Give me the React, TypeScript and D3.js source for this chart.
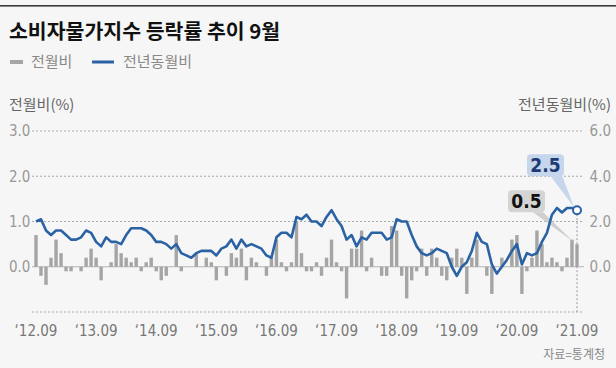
import React, { useEffect } from "react";
import * as d3 from "d3";

// 2012.09 ~ 2021.09, monthly (%)
const momValues = [
  0.7, -0.2, -0.4, 0.2,
  0.6, 0.3, -0.1, -0.1, 0.0, -0.1, 0.2, 0.4, 0.2, -0.3, 0.0, 0.1,
  0.5, 0.3, 0.2, 0.1, 0.2, -0.1, 0.1, 0.2, -0.1, -0.3, -0.2, 0.0,
  0.7, -0.1, 0.0, 0.0, 0.3, 0.0, 0.2, 0.1, -0.3, 0.0, -0.2, 0.3,
  0.2, 0.4, -0.3, 0.2, 0.1, 0.0, -0.2, 0.2, 0.6, 0.1, -0.1, 0.1,
  1.0, 0.3, -0.1, -0.1, 0.1, -0.2, 0.2, 0.6, 0.1, -0.1, -0.7, 0.4,
  0.4, 0.8, -0.1, 0.2, 0.0, -0.2, -0.2, 0.9, 0.8, -0.2, -0.7, -0.3,
  -0.1, 0.4, -0.2, 0.4, 0.2, -0.2, -0.3, 0.2, 0.4, 0.2, -0.6, 0.2,
  0.6, 0.0, -0.2, -0.6, 0.0, 0.2, 0.0, 0.6, 0.7, -0.6, -0.1, 0.2,
  0.8, 0.5, 0.1, 0.2, 0.1, -0.1, 0.2, 0.6, 0.5,
];

const yoyValues = [
  2.0, 2.1, 1.6, 1.4,
  1.6, 1.6, 1.4, 1.2, 1.2, 1.3, 1.6, 1.5, 1.1, 0.9, 1.3, 1.1,
  1.1, 1.0, 1.4, 1.7, 1.7, 1.7, 1.6, 1.4, 1.1, 1.1, 1.0, 0.8,
  1.0, 0.6, 0.5, 0.4, 0.6, 0.7, 0.7, 0.7, 0.5, 0.8, 0.9, 1.2,
  0.8, 1.2, 0.9, 1.0, 0.9, 0.8, 0.5, 0.4, 1.3, 1.5, 1.5, 1.3,
  2.2, 2.1, 2.3, 2.0, 2.0, 1.8, 2.2, 2.5, 2.1, 1.8, 1.2, 1.4,
  0.9, 1.3, 1.2, 1.5, 1.5, 1.5, 1.2, 1.3, 2.1, 2.0, 2.0, 1.4,
  0.9, 0.6, 0.5, 0.6, 0.8, 0.7, 0.6, 0.0, -0.4, 0.0, 0.2, 0.7,
  1.5, 1.1, 1.0, 0.1, -0.3, 0.0, 0.3, 0.7, 1.0, 0.1, 0.6, 0.5,
  0.6, 1.1, 1.5, 2.3, 2.6, 2.4, 2.6, 2.6, 2.5,
];

const xTickLabels = [
  "‘12.09", "‘13.09", "‘14.09", "‘15.09", "‘16.09",
  "‘17.09", "‘18.09", "‘19.09", "‘20.09", "‘21.09",
];
const leftTicks = [3, 2, 1, 0];
const rightTicks = [6, 4, 2, 0];

const W = 616;
const H = 368;
const KR = "'Noto Sans CJK KR', 'Noto Sans', sans-serif";
const NUM = "'Liberation Sans Narrow', 'DejaVu Sans Condensed', 'Roboto', sans-serif";
const BLUE = "#2a62a3";
const BAR = "#a5a5a5";

export default function App() {
  useEffect(() => {
    document.body.style.margin = "0";
  }, []);

  const n = momValues.length;
  const x = d3.scaleLinear().domain([0, n - 1]).range([36, 577]);
  const yL = d3.scaleLinear().domain([-1, 3]).range([312, 131]);
  const yR = d3.scaleLinear().domain([-2, 6]).range([312, 131]);
  const gx0 = 32;
  const gx1 = 584;
  const barW = 3.4;

  const line = d3
    .line<number>()
    .x((_, i) => x(i))
    .y((d) => yR(d));

  const last = n - 1;
  const mx = x(last);
  const my = yR(yoyValues[last]);
  const by = yL(momValues[last]);

  return (
    <svg width={W} height={H} style={{ display: "block" }}>
      <rect width={W} height={H} fill="#f6f6f6" />
      <rect x={0} y={5} width={W} height={1.6} fill="#3a3a3a" />

      <text x={9} y={39} fontFamily={KR} fontSize={20.5} fontWeight="bold" fill="#111">
        소비자물가지수 등락률 추이 9월
      </text>

      {/* legend */}
      <line x1={10} x2={23} y1={62} y2={62} stroke={BAR} strokeWidth={4} />
      <text x={31} y={67} fontFamily={KR} fontSize={15} fill="#888">전월비</text>
      <line x1={92} x2={114} y1={62} y2={62} stroke={BLUE} strokeWidth={3} />
      <text x={123} y={67} fontFamily={KR} fontSize={15} fill="#888">전년동월비</text>

      <text x={9} y={110} fontFamily={KR} fontSize={15} fill="#666">전월비(%)</text>
      <text x={611} y={110} textAnchor="end" fontFamily={KR} fontSize={15} fill="#666">
        전년동월비(%)
      </text>

      {/* grid */}
      {[3, 2, 1, -1].map((v) => (
        <line key={v} x1={gx0} x2={gx1} y1={yL(v)} y2={yL(v)} stroke="#aaa" strokeWidth={1} strokeDasharray="2,2" />
      ))}
      <line x1={gx0} x2={gx1} y1={yL(0)} y2={yL(0)} stroke="#b5b5b5" strokeWidth={1.2} />

      {leftTicks.map((v) => (
        <text key={v} x={9} y={yL(v)} dy="0.36em" fontFamily={NUM} fontSize={15} fill="#999">
          {v.toFixed(1)}
        </text>
      ))}
      {rightTicks.map((v) => (
        <text key={v} x={611} y={yR(v)} dy="0.36em" textAnchor="end" fontFamily={NUM} fontSize={15} fill="#999">
          {v.toFixed(1)}
        </text>
      ))}

      {/* bars */}
      {momValues.map((v, i) => (
        <rect
          key={i}
          x={x(i) - barW / 2}
          y={Math.min(yL(v), yL(0))}
          width={barW}
          height={Math.abs(yL(v) - yL(0))}
          fill={BAR}
        />
      ))}

      {/* callout pointers */}
      <polygon points={`${mx - 44},${by - 32} ${mx - 34},${by - 32} ${mx - 3},${by - 2}`} fill="#cfcfcf" />
      <polygon points={`${mx - 27},${my - 35} ${mx - 15},${my - 35} ${mx - 3},${my - 3}`} fill="#c6d6ec" />

      <line x1={mx} x2={mx} y1={my} y2={yL(-1)} stroke="#999" strokeWidth={1} strokeDasharray="2,2" />

      <path d={line(yoyValues) ?? ""} fill="none" stroke={BLUE} strokeWidth={2.6} strokeLinejoin="round" />
      <circle cx={mx} cy={my} r={4} fill="#fff" stroke={BLUE} strokeWidth={2} />

      {/* callout boxes */}
      <rect x={mx - 69} y={by - 54} width={37} height={22} rx={4} fill="#d4d4d4" />
      <text x={mx - 50.5} y={by - 43} dy="0.36em" textAnchor="middle" fontFamily={NUM} fontSize={19} fontWeight="bold" fill="#111">
        {momValues[last].toFixed(1)}
      </text>
      <rect x={mx - 50} y={my - 56} width={37} height={22} rx={4} fill="#c6d6ec" />
      <text x={mx - 31.5} y={my - 45} dy="0.36em" textAnchor="middle" fontFamily={NUM} fontSize={19} fontWeight="bold" fill="#1d3c74">
        {yoyValues[last].toFixed(1)}
      </text>

      {/* x labels */}
      {xTickLabels.map((t, i) => (
        <text key={t} x={x(i * 12)} y={336} textAnchor="middle" fontFamily={NUM} fontSize={15} fill="#777">
          {t}
        </text>
      ))}

      <text x={605} y={359} textAnchor="end" fontFamily={KR} fontSize={12} fill="#888">
        자료=통계청
      </text>
    </svg>
  );
}
